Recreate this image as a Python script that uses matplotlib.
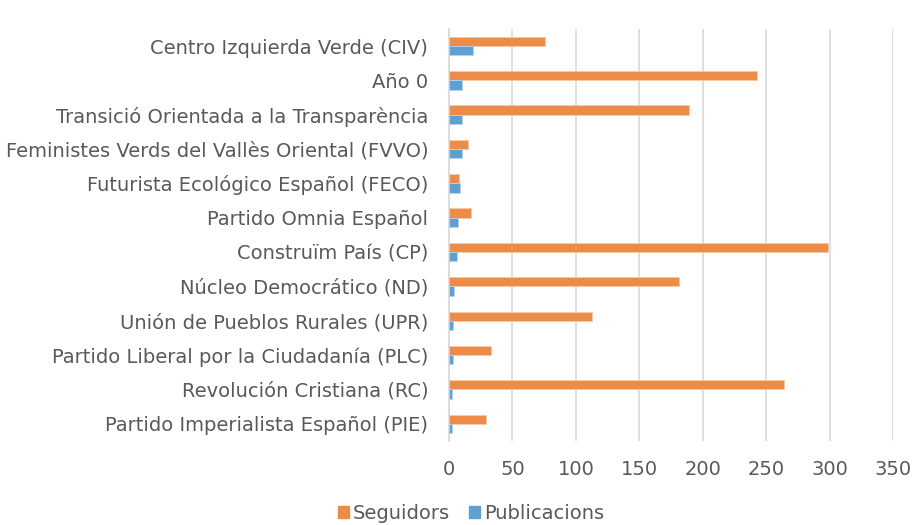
import numpy as np
import matplotlib
matplotlib.use('Agg')
from matplotlib import pyplot as plt
from matplotlib.patches import Patch

partits = ['Centro Izquierda Verde (CIV)', 'Año 0',
           'Transició Orientada a la Transparència',
           'Feministes Verds del Vallès Oriental (FVVO)',
           'Futurista Ecológico Español (FECO)', 'Partido Omnia Español',
           'Construïm País (CP)', 'Núcleo Democrático (ND)',
           'Unión de Pueblos Rurales (UPR)',
           'Partido Liberal por la Ciudadanía (PLC)',
           'Revolución Cristiana (RC)', 'Partido Imperialista Español (PIE)']
seguidors = [76, 243, 189, 15, 8, 17, 299, 181, 113, 33, 264, 29]
publicacions = [19, 10, 10, 10, 9, 7, 6, 4, 3, 3, 2, 2]
xticks = [0, 50, 100, 150, 200, 250, 300, 350]

ORANGE = '#ED8C48'
BLUE = '#5FA0D3'
GREY = '#595959'
FS = 14

plt.rcParams['font.family'] = ['DejaVu Sans']

fig = plt.figure(figsize=(9.15, 5.25), dpi=100)
ax = fig.add_axes([0.4907, 0.16, 0.4853, 0.785])

y = np.arange(len(partits))
h = 0.27
ax.barh(y - h / 2, seguidors, height=h, color=ORANGE, edgecolor='#F7C9A6', linewidth=0.6, zorder=3)
ax.barh(y + h / 2, publicacions, height=h, color=BLUE, edgecolor='#B5D3EC', linewidth=0.6, zorder=3)

ax.set_ylim(len(partits) - 0.5, -0.5)
ax.set_xlim(0, 350)
ax.set_yticks(y)
ax.set_yticklabels(partits, fontsize=FS, color=GREY)
ax.set_xticks(xticks)
ax.set_xticklabels([str(t) for t in xticks], fontsize=FS, color=GREY)
ax.tick_params(axis='both', length=0)
ax.tick_params(axis='x', pad=14)
ax.tick_params(axis='y', pad=15)

ax.grid(axis='x', color='#D9D9D9', linewidth=1.2, zorder=0)
for s in ['top', 'right', 'bottom']:
    ax.spines[s].set_visible(False)
ax.spines['left'].set_color('#D9D9D9')
ax.spines['left'].set_linewidth(1.2)

handles = [Patch(color=ORANGE, label='Seguidors'), Patch(color=BLUE, label='Publicacions')]
fig.legend(handles=handles, loc='center', bbox_to_anchor=(0.515, 0.022), ncol=2,
           frameon=False, fontsize=FS, labelcolor=GREY, handlelength=0.55,
           handleheight=0.55, handletextpad=0.2, columnspacing=1.0)

fig.savefig('out.png', dpi=100)
